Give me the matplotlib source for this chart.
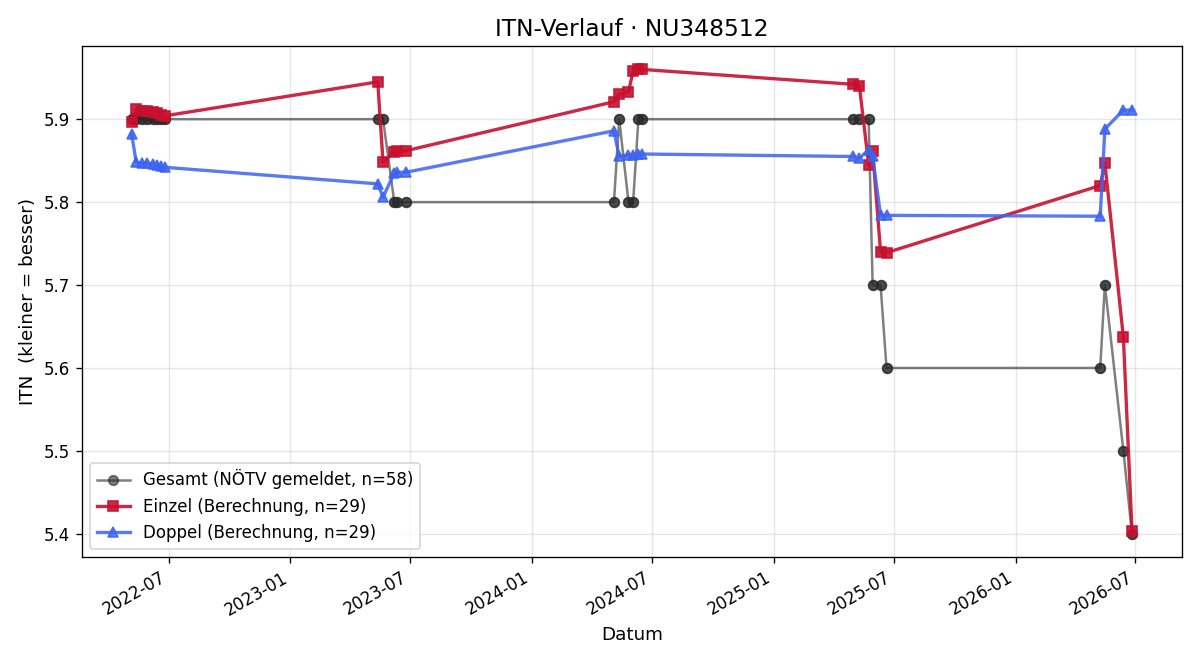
import numpy as np
import pandas as pd
import matplotlib
matplotlib.use('Agg')
import matplotlib.pyplot as plt
import matplotlib.dates as mdates

# Report dates (one per ranking update)
dates = pd.to_datetime([
    '2022-05-06', '2022-05-13', '2022-05-21', '2022-05-29', '2022-06-08', '2022-06-14', '2022-06-20', '2022-06-25',
    '2023-05-13', '2023-05-21', '2023-06-07', '2023-06-11', '2023-06-25',
    '2024-05-04', '2024-05-12', '2024-05-26', '2024-06-02', '2024-06-10', '2024-06-16',
    '2025-05-01', '2025-05-10', '2025-05-24', '2025-05-30', '2025-06-11', '2025-06-20',
    '2026-05-09', '2026-05-16', '2026-06-13', '2026-06-26',
])

# Gesamt ITN as reported by NÖTV (each date reported twice -> n=58)
gesamt_itn = [
    5.9, 5.9, 5.9, 5.9, 5.9, 5.9, 5.9, 5.9,
    5.9, 5.9, 5.8, 5.8, 5.8,
    5.8, 5.9, 5.8, 5.8, 5.9, 5.9,
    5.9, 5.9, 5.9, 5.7, 5.7, 5.6,
    5.6, 5.7, 5.5, 5.4,
]

einzel_itn = [
    5.897, 5.912, 5.910, 5.910, 5.909, 5.908, 5.905, 5.904,
    5.945, 5.848, 5.861, 5.862, 5.862,
    5.921, 5.930, 5.933, 5.958, 5.960, 5.960,
    5.942, 5.940, 5.845, 5.862, 5.740, 5.739,
    5.820, 5.847, 5.637, 5.404,
]

doppel_itn = [
    5.882, 5.848, 5.847, 5.847, 5.846, 5.845, 5.843, 5.842,
    5.822, 5.806, 5.835, 5.836, 5.836,
    5.886, 5.855, 5.857, 5.857, 5.858, 5.858,
    5.855, 5.853, 5.863, 5.855, 5.784, 5.784,
    5.783, 5.888, 5.911, 5.911,
]

fig, ax = plt.subplots(figsize=(10, 5.5), dpi=120)

ax.plot(np.repeat(dates, 2), np.repeat(gesamt_itn, 2), marker='o', color='#2a2a2a', alpha=0.6,
        linewidth=1.5, markersize=5.8, label='Gesamt (NÖTV gemeldet, n=58)')
ax.plot(dates, einzel_itn, marker='s', color='#c8102e', alpha=0.9,
        linewidth=2, markersize=6, label='Einzel (Berechnung, n=29)')
ax.plot(dates, doppel_itn, marker='^', color='#3d63f0', alpha=0.85,
        linewidth=2, markersize=6, label='Doppel (Berechnung, n=29)')

ax.set_title('ITN-Verlauf · NU348512', fontsize=14)
ax.set_xlabel('Datum', fontsize=11)
ax.set_ylabel('ITN  (kleiner = besser)', fontsize=11)
ax.xaxis.set_major_locator(mdates.MonthLocator(bymonth=[1, 7]))
ax.xaxis.set_major_formatter(mdates.DateFormatter('%Y-%m'))
ax.grid(True, alpha=0.3)
ax.legend(loc='lower left', fontsize=10)
fig.autofmt_xdate()

plt.subplots_adjust(left=0.068, right=0.985, top=0.930, bottom=0.156)
plt.savefig('out.png')
